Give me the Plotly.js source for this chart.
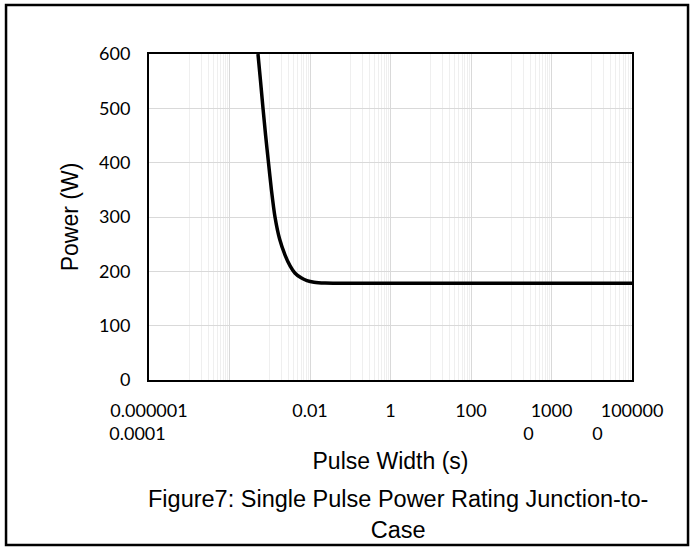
<!DOCTYPE html>
<html>
<head>
<meta charset="utf-8">
<script src="https://cdn.plot.ly/plotly-3.0.1.min.js"></script>
<style>
html,body{margin:0;padding:0;background:#fff;}
#chart{width:695px;height:548px;}
</style>
</head>
<body>
<div id="chart"></div>
<script>
// Data
const pulseWidth = [0.00051, 0.00059, 0.00068, 0.00079, 0.00093, 0.0011, 0.00135, 0.00175, 0.0024, 0.0032, 0.0042, 0.006, 0.0084, 0.0126, 0.0236, 0.1, 1, 100, 10000, 1000000];
const power      = [600, 550, 500, 450, 400, 350, 300, 260, 230, 210, 197, 188, 183, 180, 178.5, 178, 178, 178, 178, 178];

const NB = '\u00a0';
const tickVals = [1e-6, 1e-4, 1e-2, 1, 100, 1e4, 1e6];
const tickLabels = ['0.000001<br>0.0001' + NB.repeat(5), '', '0.01', '1', '100', '1000<br>0' + NB.repeat(10), '100000<br>0' + NB.repeat(15)];
const yTicks = [0, 100, 200, 300, 400, 500, 600];

const xTitle = 'Pulse Width (s)';
const yTitle = 'Power (W)';
const caption = 'Figure7: Single Pulse Power Rating Junction-to-<br>Case';

// minor gridlines: 10..90 x each major (log base 100 axis)
const minorVals = [];
tickVals.slice(0, -1).forEach(m => { for (let k = 1; k <= 9; k++) minorVals.push(m * 10 * k); });

const trace = {
  x: pulseWidth, y: power, type: 'scatter', mode: 'lines',
  line: {color: '#000000', width: 3.5, shape: 'spline', smoothing: 0.6},
  hoverinfo: 'skip'
};

const layout = {
  width: 695, height: 548,
  margin: {l: 149, r: 63, t: 54, b: 168},
  paper_bgcolor: '#ffffff', plot_bgcolor: '#ffffff',
  showlegend: false,
  xaxis: {
    type: 'log', range: [-6, 6],
    tickmode: 'array', tickvals: tickVals, ticktext: tickLabels,
    ticks: '', showgrid: true, gridcolor: '#d9d9d9', gridwidth: 1,
    minor: {tickmode: 'array', tickvals: minorVals, showgrid: true, gridcolor: '#efefef', gridwidth: 1, ticks: ''},
    showline: true, linecolor: '#000000', linewidth: 2, mirror: true,
    zeroline: false,
    tickfont: {family: 'Lato, sans-serif', size: 18, color: '#000000'},
    ticklabelstandoff: 13,
    automargin: false,
    title: {text: xTitle, font: {family: 'Liberation Sans, Arial, sans-serif', size: 23, color: '#000000'}, standoff: 10}
  },
  yaxis: {
    range: [0, 600], tickmode: 'array', tickvals: yTicks,
    ticks: '', showgrid: true, gridcolor: '#d9d9d9', gridwidth: 1,
    showline: true, linecolor: '#000000', linewidth: 2, mirror: true,
    zeroline: false,
    tickfont: {family: 'Lato, sans-serif', size: 18, color: '#000000'},
    ticklabelstandoff: 13,
    automargin: false,
    title: {text: yTitle, font: {family: 'Liberation Sans, Arial, sans-serif', size: 23, color: '#000000'}, standoff: 14}
  },
  annotations: [{
    text: caption, xref: 'paper', yref: 'paper', x: 0.516, y: -0.318,
    xanchor: 'center', yanchor: 'top', showarrow: false, align: 'center',
    font: {family: 'Liberation Sans, Arial, sans-serif', size: 23.5, color: '#000000'}
  }],
  shapes: [{
    type: 'rect', xref: 'paper', yref: 'paper',
    x0: -0.296, x1: 1.116, y0: -0.506, y1: 1.150,
    line: {color: '#000000', width: 2.5}, fillcolor: 'rgba(0,0,0,0)'
  }]
};

Plotly.newPlot('chart', [trace], layout, {displayModeBar: false, staticPlot: true});
</script>
</body>
</html>
